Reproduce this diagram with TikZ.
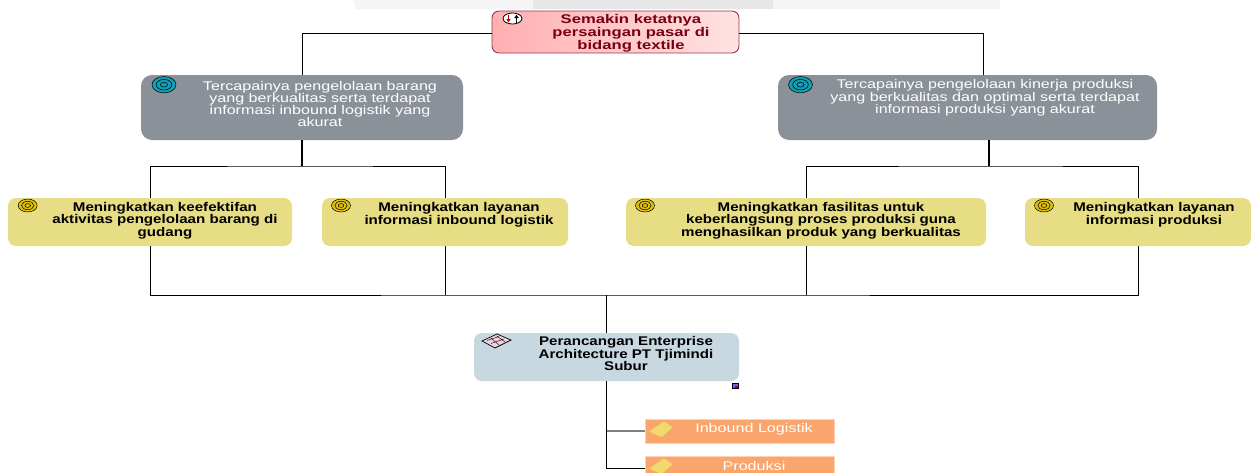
\documentclass[tikz,border=0pt]{standalone}
\usepackage{fontspec}
\setmainfont{Liberation Sans}[FakeStretch=1.2]
\newfontfamily\widefont{Liberation Sans}[FakeStretch=1.28]
\newfontfamily\drvfont{Liberation Sans}[FakeStretch=1.32]
\usetikzlibrary{shapes.geometric,calc,arrows.meta}
\definecolor{goalgray}{HTML}{8A9199}
\definecolor{goalyellow}{HTML}{E6DD85}
\definecolor{archblue}{HTML}{C8D8E0}
\definecolor{pkgorange}{HTML}{F9A56B}
\definecolor{pkgedge}{HTML}{FCD3B6}
\definecolor{driverdark}{HTML}{7A0010}
\definecolor{driveredge}{HTML}{963C46}
\definecolor{drvL}{HTML}{FFAFB2}
\definecolor{drvR}{HTML}{FFE2E2}
\definecolor{tealc}{HTML}{0F9FB4}
\definecolor{goldc}{HTML}{E0C20C}
\definecolor{wmA}{HTML}{F5F5F5}
\definecolor{wmB}{HTML}{E7E7E7}
\definecolor{diam}{HTML}{F2D96B}
\tikzset{
  x=1pt,y=-1pt,
  boxbase/.style={anchor=north west,inner sep=0pt,outer sep=0pt,align=center},
  driverbox/.style={boxbase,rounded corners=7pt,draw=driveredge,line width=0.9pt,left color=drvL,right color=drvR},
  graybox/.style={boxbase,rounded corners=11pt,fill=goalgray},
  yellowbox/.style={boxbase,rounded corners=8pt,fill=goalyellow},
  bluebox/.style={boxbase,rounded corners=8pt,fill=archblue},
  pkgbox/.style={boxbase,fill=pkgorange,draw=pkgedge,line width=0.6pt},
  wire/.style={draw=black,line width=1pt},
  wirebold/.style={draw=black,line width=1.8pt},
  wiregray/.style={draw=black!50,line width=1.2pt},
  bt/.style={align=center,inner sep=0pt,text=black,font=\fontsize{12.6}{12.7}\selectfont\bfseries},
  drvt/.style={align=center,inner sep=0pt,text=driverdark,font=\drvfont\fontsize{12.6}{13.2}\selectfont\bfseries},
  wt/.style={align=center,inner sep=0pt,text=white,font=\widefont\fontsize{12.6}{12.3}\selectfont},
}
\newcommand{\rbox}[6]{%
  \node[#2,minimum width=#5pt,minimum height=#6pt] (#1) at (#3,#4) {};}
\newcommand{\target}[4]{%
  \begin{scope}[shift={(#1,#2)}]
    \filldraw[fill=#4,draw=black,line width=0.5pt] (0,0) ellipse [x radius=#3pt,y radius=#3*0.68pt];
    \draw[black,line width=0.5pt] (0,0) ellipse [x radius=#3*0.65pt,y radius=#3*0.44pt];
    \draw[black,line width=0.5pt] (0,0) ellipse [x radius=#3*0.3pt,y radius=#3*0.2pt];
  \end{scope}}
\begin{document}
\begin{tikzpicture}
\useasboundingbox (0,0) rectangle (1251,472);
% watermark
\fill[wmA] (353,0) -- (1000,0) -- (1000,9) -- (356,9) -- cycle;
\fill[wmB] (533,0) rectangle (773,9);
% nodes
\rbox{drv}{driverbox}{492}{11}{247}{42}
\rbox{gl}{graybox}{141}{75}{322}{65}
\rbox{gr}{graybox}{778}{75}{379}{65}
\rbox{y1}{yellowbox}{8}{198}{284}{48}
\rbox{y2}{yellowbox}{322}{198}{246}{48}
\rbox{y3}{yellowbox}{626}{198}{360}{48}
\rbox{y4}{yellowbox}{1025}{198}{226}{48}
\rbox{arch}{bluebox}{474}{333}{265}{48}
\rbox{p1}{pkgbox}{645}{419}{189}{24}
\rbox{p2}{pkgbox}{645}{456}{189}{18}
% connector junctions
\coordinate (drvW) at ($(drv.west)+(0,1)$);
\coordinate (drvE) at ($(drv.east)+(0,1)$);
\coordinate (rTop) at (983,33);
\coordinate (rTrunk) at (989,166);
\coordinate (lTrunk) at (302,166);
\coordinate (bus) at (606.5,295);
\coordinate (stem) at (606.5,431);
\coordinate (stemEnd) at (606.5,468);
% connectors
\draw[wire] (drvW) -| (gl.north);
\draw[wire] (drvE) -| (rTop |- gr.north);
\draw[wirebold] (gl.south) -- (lTrunk);
\draw[wire] (y1.north) |- (lTrunk) -| (y2.north);
\draw[wirebold] (rTrunk |- gr.south) -- (rTrunk);
\draw[wire] (y3.north) |- (rTrunk) -| (y4.north);
\draw[wire] (y1.south) |- (bus) -| (y4.south);
\draw[wire] (y2.south) -- (y2.south |- bus);
\draw[wire] (y3.south) -- (y3.south |- bus);
\draw[wirebold] (bus) -- (arch.north);
\draw[wirebold] (arch.south) -- (stem);
\draw[wiregray] (stem) -- (stem -| p1.west);
\draw[wire] (stem) -- (stemEnd) -- (stemEnd -| p2.west);
% labels
\node[drvt] (ldrv) at (631,33) {Semakin ketatnya\\persaingan pasar di\\bidang textile};
\node[wt] (lgl) at (320,104) {Tercapainya pengelolaan barang\\yang berkualitas serta terdapat\\informasi inbound logistik yang\\akurat};
\node[wt] (lgr) at (985,98) {Tercapainya pengelolaan kinerja produksi\\yang berkualitas dan optimal serta terdapat\\informasi produksi yang akurat};
\node[bt] (ly1) at (165,220.5) {Meningkatkan keefektifan\\aktivitas pengelolaan barang di\\gudang};
\node[bt] (ly2) at (459,214.5) {Meningkatkan layanan\\informasi inbound logistik};
\node[bt] (ly3) at (821,220.5) {Meningkatkan fasilitas untuk\\keberlangsung proses produksi guna\\menghasilkan produk yang berkualitas};
\node[bt] (ly4) at (1154,214.5) {Meningkatkan layanan\\informasi produksi};
\node[bt] (larch) at (626,353.5) {Perancangan Enterprise\\Architecture PT Tjimindi\\Subur};
\node[wt] (lp1) at (754,429) {Inbound Logistik};
\node[wt] (lp2) at (754,466) {Produksi};
% icons
\target{164}{84.7}{12}{tealc}
\target{800.5}{84.7}{12}{tealc}
\target{27.7}{205.5}{9.5}{goldc}
\target{341}{205.5}{9.5}{goldc}
\target{645}{205.5}{9.5}{goldc}
\target{1044}{205.5}{9.5}{goldc}
% driver icon
\filldraw[fill=white,draw=black,line width=0.8pt] (512.5,18.5) ellipse [x radius=9.5pt,y radius=5.5pt];
\draw[red!70!black,line width=1pt,-{Latex[length=3.5pt,width=5pt]}] (508.5,14.5) -- (508.5,22.5);
\draw[black,line width=1pt,-{Latex[length=3.5pt,width=5pt]}] (516.5,22.5) -- (516.5,14.5);
% architecture icon
\filldraw[fill=pink!70!violet!40,draw=black,line width=0.7pt] (482,341) -- (497,334) -- (511,340) -- (495,348) -- cycle;
\draw[black,line width=0.4pt] (487,340.5) -- (499,336.5) (491,343.5) -- (504,339) (491,338) -- (499,345) (497,336) -- (505,342);
% small marker
\filldraw[fill=blue!60!white,draw=black,line width=0.5pt] (732,383.5) rectangle (738,388.5);
\fill[red!70!black] (735,386) rectangle (737.6,388.1);
% diamonds
\fill[diam] (649,431.7) -- (664,421.3) -- (672.7,427.3) -- (661.7,437) -- cycle;
\fill[diam] (649,468.7) -- (664,458.3) -- (672.7,464.3) -- (661.7,474) -- cycle;
\end{tikzpicture}
\end{document}
